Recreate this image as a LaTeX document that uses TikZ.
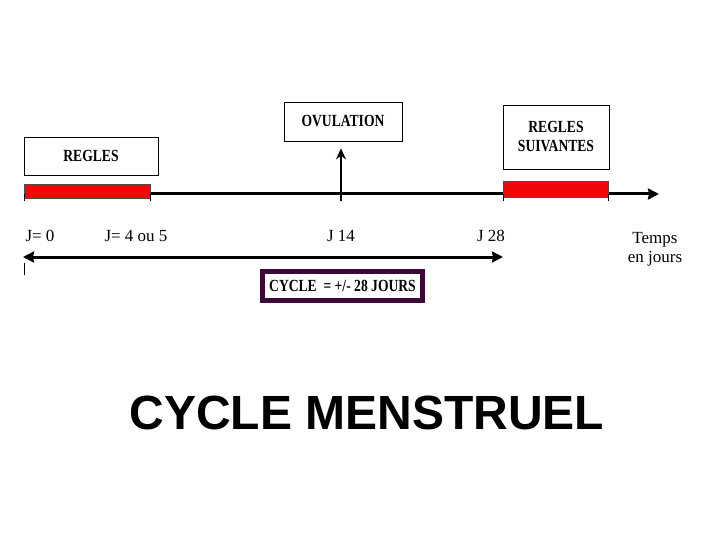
\documentclass[tikz,border=0pt]{standalone}
\usepackage{fontspec}
\usetikzlibrary{arrows.meta}
\setmainfont{Liberation Serif}
\newfontfamily\etroit[FakeStretch=0.8]{Liberation Serif}
\newfontfamily\titre{Liberation Sans}
\definecolor{rouge}{RGB}{240,8,8}
\definecolor{violetfonce}{RGB}{60,8,58}
\newcommand{\taille}[1]{\fontsize{#1}{#1}\selectfont}
\begin{document}
\begin{tikzpicture}[x=1pt, y=-1pt, >={Stealth[length=11pt, width=11pt, inset=1pt]},
    boite/.style={draw, line width=0.8pt, inner sep=0pt, align=center,
        font=\etroit\bfseries\taille{17}},
    jour/.style={inner sep=0pt, font=\taille{17}},
    barre/.style={draw=black!70, fill=rouge, line width=0.6pt}]
    \useasboundingbox (0,0) rectangle (720,540);

    % encadres
    \node[boite, minimum width=134pt, minimum height=38pt] (regles) at (91,156) {REGLES};
    \node[boite, minimum width=118pt, minimum height=39pt] (ovul) at (343,121.5) {OVULATION};
    \node[boite, minimum width=106pt, minimum height=64pt] (suiv) at (556,137) {REGLES\\[2pt]SUIVANTES};

    % axe du temps
    \coordinate (t0) at (24,194);
    \coordinate (tfin) at (659,194);
    \draw[->, line width=3pt] (t0) -- (tfin);
    \node[barre, minimum width=126pt, minimum height=14pt, inner sep=0pt] (rg1) at (87,191) {};
    \node[barre, minimum width=105pt, minimum height=16pt, inner sep=0pt] (rg2) at (555.5,189) {};
    \foreach \x in {24,150,503,608}
        \draw[line width=0.6pt] (\x,194) -- (\x,201);

    % ovulation
    \coordinate (ovbas) at (341,201);
    \draw[-{Stealth[length=11pt, width=10pt]}, line width=2pt, shorten >=7pt] (ovbas) -- (ovbas |- ovul.south);

    % jours
    \node[jour] (j0) at (40,236) {J= 0};
    \node[jour] (j4) at (136,236) {J= 4 ou 5};
    \node[jour] (j14) at (341,236) {J 14};
    \node[jour] (j28) at (491,236) {J 28};
    \node[jour, align=center] (temps) at (655,249) {Temps\\[2pt]en jours};

    % duree du cycle
    \coordinate (cA) at (23,257);
    \coordinate (cB) at (503,257);
    \draw[<->, line width=3pt] (cA) -- (cB);
    \draw[line width=0.6pt] (24,263) -- (24,275);
    \node[draw=violetfonce, line width=5pt, fill=white, minimum width=160pt,
        minimum height=29pt, inner sep=0pt, font=\etroit\bfseries\taille{17}] (cycle) at (342.5,286) {CYCLE \ = +/- 28 JOURS};

    % titre
    \node[font=\titre\bfseries\taille{48}] (titre) at (367,413) {CYCLE MENSTRUEL};
\end{tikzpicture}
\end{document}
